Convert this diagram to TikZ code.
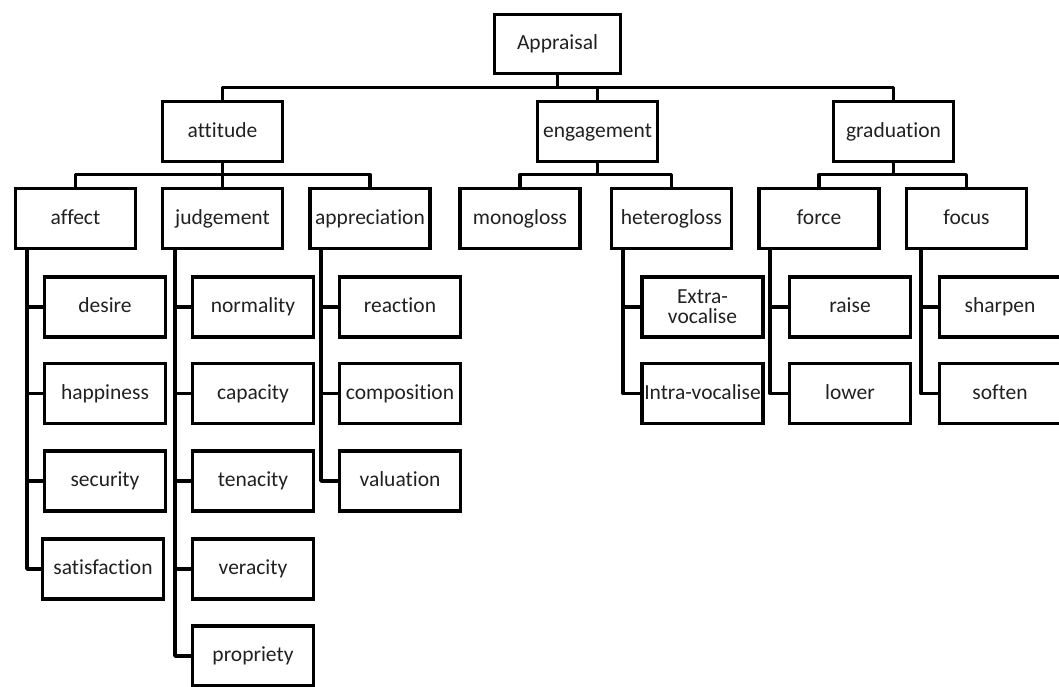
\documentclass[tikz,border=0pt]{standalone}
\usepackage{fontspec}
\setmainfont{Carlito}[RawFeature={-liga}]
\definecolor{txt}{rgb}{0.13,0.13,0.13}
\begin{document}
\begin{tikzpicture}[x=1pt,y=1pt,
  box/.style={draw, line width=3.4pt, minimum width=121pt, minimum height=60pt, inner sep=1pt,
    font=\fontsize{21.5}{20}\selectfont, text=txt, align=center, text height=15pt, text depth=3.5pt},
  conn/.style={line width=3.4pt, line join=round}]
\useasboundingbox (0,0) rectangle (1059,-687);
\clip (0,0) rectangle (1059,-687);
% level 0 / 1
\node[box, minimum width=126pt, minimum height=59pt] (app) at (557.5,-44) {Appraisal};
\node[box, minimum width=120pt] (att) at (222.5,-131.5) {attitude};
\node[box, minimum width=120pt] (eng) at (597.5,-131.5) {engagement};
\node[box, minimum width=120pt] (gra) at (893.5,-131.5) {graduation};
% level 2
\node[box, minimum width=120pt] (aff)  at (75.5,-218.5) {affect};
\node[box, minimum width=120pt] (jud)  at (222.5,-218.5) {judgement};
\node[box, minimum width=120pt] (appr) at (370,-218.5) {appreciation};
\node[box, minimum width=120pt] (mono) at (520,-218.5) {monogloss};
\node[box, minimum width=120pt] (het)  at (671.5,-218.5) {heterogloss};
\node[box, minimum width=120pt] (forc) at (819,-218.5) {force};
\node[box, minimum width=120pt] (foc)  at (966.5,-218.5) {focus};
% leaves
\node[box] (des) at (105,-307) {desire};
\node[box] (hap) at (105,-393.5) {happiness};
\node[box] (sec) at (105,-481) {security};
\node[box] (sat) at (103,-569) {satisfaction};
\node[box] (nor) at (253,-307) {normality};
\node[box] (cap) at (253,-393.5) {capacity};
\node[box] (ten) at (253,-481) {tenacity};
\node[box] (ver) at (253,-569) {veracity};
\node[box] (pro) at (253,-656) {propriety};
\node[box] (rea) at (400,-307) {reaction};
\node[box] (com) at (400,-393.5) {composition};
\node[box] (val) at (400,-481) {valuation};
\node[box, text height=, text depth=] (ext) at (702.5,-307) {Extra-\\vocalise};
\node[box] (int) at (702.5,-393.5) {Intra-vocalise};
\node[box] (rai) at (850,-307) {raise};
\node[box] (low) at (850,-393.5) {lower};
\node[box] (sha) at (1000,-307) {sharpen};
\node[box] (sof) at (1000,-393.5) {soften};
% tree connectors
\foreach \c in {att,eng,gra} \draw[conn] (\c.north) -- ++(0,12) -| (app.south);
\foreach \c in {aff,jud,appr} \draw[conn] (\c.north) -- ++(0,12) -| (att.south);
\foreach \c in {mono,het} \draw[conn] (\c.north) -- ++(0,12) -| (eng.south);
\foreach \c in {forc,foc} \draw[conn] (\c.north) -- ++(0,12) -| (gra.south);
% trunks
\coordinate (taff) at (27,0);
\coordinate (tjud) at (175,0);
\coordinate (tapp) at (321,0);
\coordinate (thet) at (623,0);
\coordinate (tfor) at (770,0);
\coordinate (tfoc) at (921,0);
\foreach \l in {des,hap,sec,sat} \draw[conn] (taff |- aff.south) |- (\l.west);
\foreach \l in {nor,cap,ten,ver,pro} \draw[conn] (tjud |- jud.south) |- (\l.west);
\foreach \l in {rea,com,val} \draw[conn] (tapp |- appr.south) |- (\l.west);
\foreach \l in {ext,int} \draw[conn] (thet |- het.south) |- (\l.west);
\foreach \l in {rai,low} \draw[conn] (tfor |- forc.south) |- (\l.west);
\foreach \l in {sha,sof} \draw[conn] (tfoc |- foc.south) |- (\l.west);
\end{tikzpicture}
\end{document}
